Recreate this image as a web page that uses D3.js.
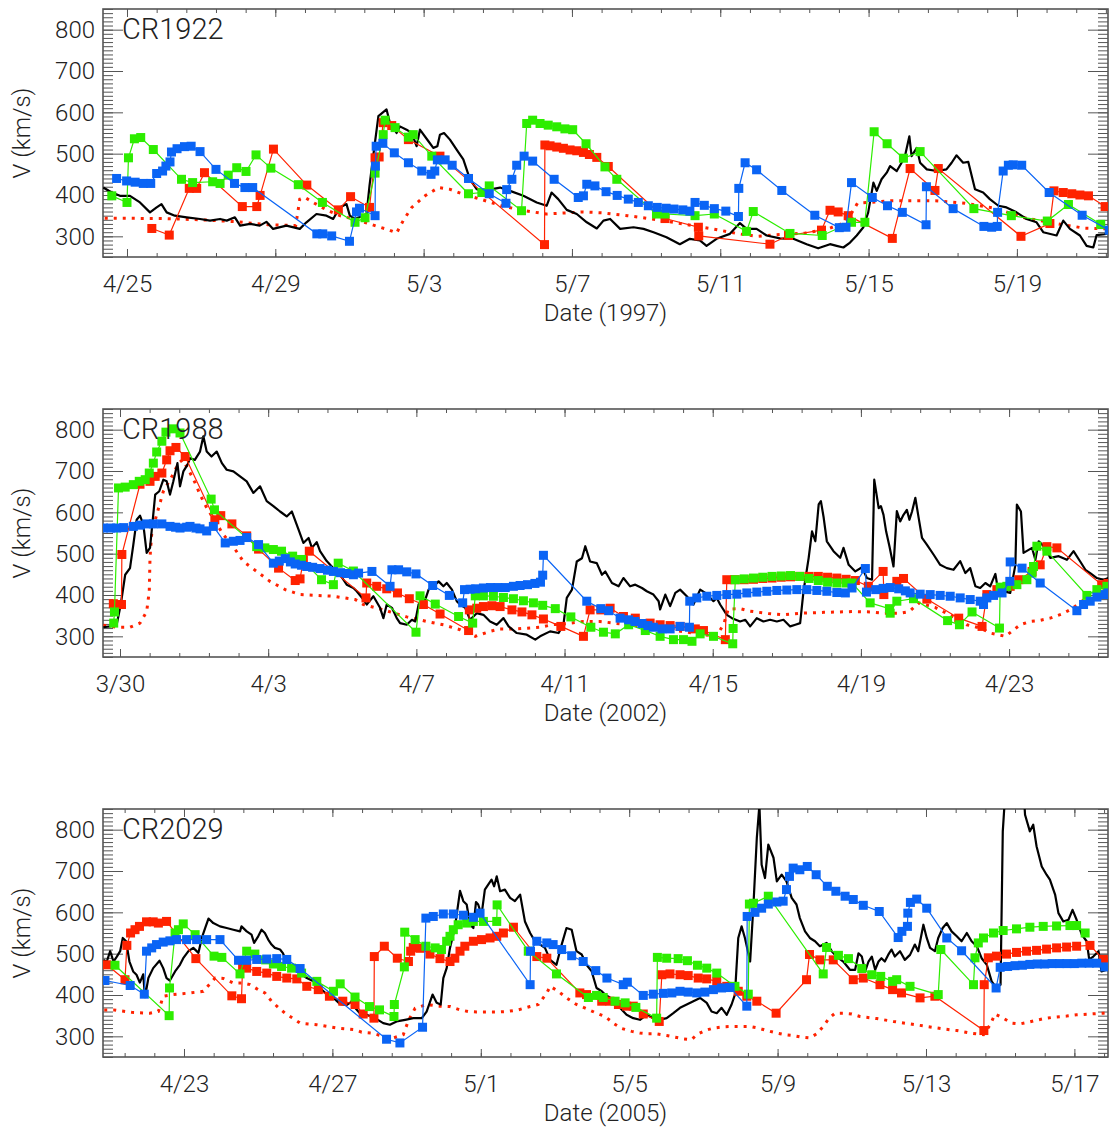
<!DOCTYPE html>
<html>
<head>
<meta charset="utf-8">
<script src="https://cdn.jsdelivr.net/npm/d3@7"></script>
<style>
  body { margin: 0; background: #fff; }
  svg text { font-family: Roboto, "Liberation Sans", sans-serif; font-weight: 300; fill: #222; }
</style>
</head>
<body>
<div id="chart-area"></div>
<script>
// times are fractional day numbers counted from the 1st of the base month of each rotation
// CR1922 (base April 1997)
const window1922 = [24.353, 51.457]
const ticks1922 = ["4/25", "4/29", "5/3", "5/7", "5/11", "5/15", "5/19"]
const obs1922 = [[24.36,418],[24.59,406],[24.81,398],[25.08,398],[25.35,382],[25.62,358],[25.80,370],[25.93,378],[26.07,358],[26.29,350],[26.61,346],[26.97,342],[27.24,338],[27.51,342],[27.69,338],[27.91,346],[28.05,326],[28.32,330],[28.58,326],[28.76,335],[28.94,318],[29.30,326],[29.66,318],[29.84,334],[30.11,354],[30.38,350],[30.56,342],[30.74,370],[30.92,378],[31.01,350],[31.15,342],[31.46,354],[31.54,422],[31.64,494],[31.78,591],[32.0,607],[32.09,575],[32.27,550],[32.36,566],[32.54,558],[32.68,550],[32.81,518],[32.90,558],[33.13,530],[33.26,514],[33.37,518],[33.44,546],[33.55,550],[33.71,534],[33.89,510],[34.07,486],[34.25,438],[34.43,414],[34.61,410],[35.06,418],[35.33,410],[35.69,398],[36.05,382],[36.32,374],[36.45,406],[36.63,390],[36.86,364],[37.13,354],[37.40,334],[37.67,319],[37.85,338],[38.03,342],[38.30,318],[38.66,322],[38.93,318],[39.20,310],[39.55,298],[39.91,281],[40.18,294],[40.45,290],[40.63,277],[40.90,294],[41.26,306],[41.53,332],[41.71,318],[41.98,318],[42.25,302],[42.61,295],[42.97,294],[43.33,281],[43.64,271],[43.96,281],[44.14,277],[44.32,273],[44.50,285],[44.68,302],[44.86,322],[44.99,358],[45.13,430],[45.22,410],[45.35,438],[45.49,454],[45.58,470],[45.76,458],[45.89,478],[45.98,494],[46.10,542],[46.16,494],[46.30,514],[46.39,478],[46.57,462],[46.84,458],[47.10,462],[47.24,478],[47.37,496],[47.55,478],[47.69,480],[47.87,414],[48.09,406],[48.27,390],[48.50,374],[48.72,370],[48.99,358],[49.26,342],[49.53,334],[49.71,310],[50.07,302],[50.25,338],[50.43,318],[50.70,302],[50.88,277],[51.06,273],[51.15,303],[51.37,305],[51.49,310]]
const model1922 = [[24.4,344],[26.0,343],[27.0,340],[28.0,335],[28.8,328],[29.55,326],[29.62,366],[29.66,390],[29.8,394],[30.02,382],[30.38,364],[30.74,350],[31.1,342],[31.55,330],[31.82,322],[32.05,316],[32.27,308],[32.45,338],[32.68,370],[33.04,398],[33.4,418],[33.7,414],[34.07,402],[34.6,388],[35.1,374],[35.6,364],[36.3,354],[37.3,359],[37.8,357],[38.5,350],[39.3,340],[40.0,330],[40.8,318],[41.5,306],[42.0,300],[42.5,304],[43.3,308],[43.9,318],[44.4,335],[44.7,380],[45.6,386],[46.8,386],[47.6,380],[48.4,368],[49.2,345],[50.0,332],[50.8,320],[51.45,318]]
const red1922 = [[25.67,319],[26.14,303],[26.68,416],[26.88,416],[27.09,454],[28.11,372],[28.50,372],[28.59,399],[28.95,511],[29.85,424],[30.70,364],[31.03,396],[31.54,370],[31.69,490],[31.80,492],[31.91,575],[32.14,568],[32.59,534],[33.44,494],[36.26,280],[36.27,521],[36.41,519],[36.59,516],[36.77,513],[36.95,509],[37.13,507],[37.31,503],[37.47,498],[37.67,491],[37.98,469],[39.51,343],[40.41,322],[40.42,301],[42.34,281],[42.84,302],[43.73,315],[43.96,363],[44.18,359],[44.45,350],[45.64,295],[46.12,464],[46.79,411],[46.88,464],[49.11,300],[49.89,331],[50.0,410],[50.25,406],[50.48,403],[50.70,400],[50.93,398],[51.38,372]]
const green1922 = [[24.59,398],[25.0,382],[25.04,490],[25.2,536],[25.37,539],[25.71,510],[26.47,438],[26.77,430],[27.31,432],[27.51,428],[27.73,448],[27.96,466],[28.21,457],[28.48,497],[28.88,465],[29.62,425],[30.27,382],[31.15,334],[31.42,345],[31.69,453],[31.91,546],[31.96,581],[32.23,563],[32.59,540],[32.72,546],[33.22,494],[34.21,403],[34.57,406],[34.77,422],[35.64,362],[35.78,573],[35.94,581],[36.14,573],[36.36,569],[36.59,565],[36.81,560],[37.02,558],[37.38,524],[37.89,468],[38.21,438],[39.28,354],[39.51,354],[40.32,350],[40.84,354],[41.71,312],[41.89,360],[42.88,307],[43.75,302],[44.54,334],[44.90,334],[45.15,553],[45.50,524],[45.94,489],[46.39,505],[47.84,367],[48.85,350],[49.82,337],[50.39,377],[51.26,329]]
const blue1922 = [[24.72,440],[24.99,434],[25.22,431],[25.44,428],[25.64,428],[25.80,452],[25.96,458],[26.05,470],[26.16,480],[26.2,504],[26.35,512],[26.55,517],[26.73,518],[26.97,505],[27.40,462],[27.90,428],[28.18,418],[28.39,418],[30.12,306],[30.28,306],[30.52,301],[31.0,288],[31.19,359],[31.27,368],[31.69,350],[31.70,470],[31.72,518],[31.90,525],[32.21,502],[32.59,478],[32.95,458],[33.2,450],[33.30,458],[33.37,485],[33.58,485],[33.77,472],[34.21,440],[34.77,403],[35.22,380],[35.24,413],[35.38,438],[35.51,472],[35.71,494],[35.94,482],[36.52,438],[37.17,394],[37.31,398],[37.40,426],[37.62,422],[37.92,408],[38.22,399],[38.52,390],[38.79,382],[39.06,374],[39.30,370],[39.54,368],[39.75,366],[39.99,364],[40.18,361],[40.32,382],[40.57,375],[40.84,367],[41.15,361],[41.49,348],[41.50,416],[41.67,478],[41.98,461],[42.66,411],[43.55,351],[44.21,321],[44.39,322],[44.54,430],[45.1,394],[45.51,374],[45.91,358],[46.55,328],[46.56,420],[47.28,367],[48.11,324],[48.32,322],[48.47,324],[48.48,358],[48.63,458],[48.77,472],[48.9,473],[49.13,472],[49.87,406],[50.76,351],[51.49,315]]

// CR1988 (base March 2002)
const window1988 = [29.541, 56.67]
const ticks1988 = ["3/30", "4/3", "4/7", "4/11", "4/15", "4/19", "4/23"]
const obs1988 = [[29.55,322],[29.73,324],[29.91,328],[30.02,377],[30.14,449],[30.27,465],[30.36,522],[30.45,582],[30.54,592],[30.63,570],[30.72,502],[30.81,514],[30.88,578],[30.95,643],[31.06,651],[31.17,679],[31.26,675],[31.35,643],[31.44,675],[31.55,719],[31.62,663],[31.71,699],[31.82,715],[31.89,731],[32.02,727],[32.16,747],[32.25,784],[32.34,747],[32.47,735],[32.61,747],[32.75,719],[32.88,703],[33.06,699],[33.24,687],[33.42,675],[33.60,647],[33.78,663],[33.96,627],[34.14,615],[34.32,602],[34.50,590],[34.64,602],[34.82,558],[34.95,526],[35.09,538],[35.18,514],[35.31,528],[35.40,506],[35.58,482],[35.76,465],[35.94,449],[36.12,425],[36.30,417],[36.39,409],[36.57,389],[36.66,377],[36.84,397],[37.02,369],[37.11,344],[37.20,377],[37.34,369],[37.47,344],[37.56,332],[37.74,328],[37.88,340],[37.97,336],[38.06,377],[38.24,389],[38.33,413],[38.51,425],[38.60,433],[38.73,421],[38.82,429],[38.96,413],[39.09,385],[39.18,377],[39.32,369],[39.45,340],[39.63,356],[39.81,352],[39.99,336],[40.17,328],[40.35,344],[40.49,324],[40.71,308],[40.98,304],[41.21,292],[41.34,300],[41.61,312],[41.84,308],[41.97,328],[42.06,393],[42.20,413],[42.33,481],[42.47,489],[42.56,518],[42.69,481],[42.87,477],[43.01,449],[43.10,457],[43.28,429],[43.46,421],[43.59,441],[43.77,421],[43.91,425],[44.09,417],[44.22,409],[44.40,401],[44.54,385],[44.58,365],[44.72,401],[44.85,373],[44.99,405],[45.12,413],[45.30,397],[45.48,377],[45.66,413],[45.80,405],[46.02,385],[46.11,393],[46.20,377],[46.38,352],[46.52,344],[46.74,336],[46.88,340],[47.01,324],[47.19,344],[47.37,336],[47.55,340],[47.73,336],[47.91,340],[48.09,324],[48.23,328],[48.36,332],[48.45,409],[48.59,490],[48.68,554],[48.77,530],[48.86,619],[48.92,627],[48.99,590],[49.08,530],[49.26,506],[49.44,490],[49.53,514],[49.67,473],[49.85,457],[50.03,467],[50.16,441],[50.30,437],[50.36,679],[50.48,610],[50.54,615],[50.61,594],[50.68,554],[50.77,518],[50.88,469],[50.97,603],[51.06,578],[51.15,594],[51.24,606],[51.31,582],[51.38,602],[51.47,635],[51.56,586],[51.65,538],[51.78,522],[51.96,498],[52.14,473],[52.32,465],[52.50,461],[52.68,482],[52.82,453],[52.95,465],[53.09,421],[53.22,417],[53.36,429],[53.49,421],[53.63,451],[53.67,429],[53.81,410],[54.03,405],[54.17,473],[54.21,619],[54.32,602],[54.39,502],[54.62,514],[54.71,485],[54.80,530],[54.98,514],[55.11,490],[55.34,494],[55.56,485],[55.74,506],[55.92,481],[56.06,461],[56.19,453],[56.37,441],[56.55,437],[56.68,441]]
const model1988 = [[29.55,327],[29.91,322],[30.27,322],[30.54,332],[30.72,360],[30.79,409],[30.81,490],[30.86,554],[30.99,594],[31.17,651],[31.40,687],[31.58,719],[31.69,727],[31.85,703],[32.03,671],[32.16,643],[32.34,611],[32.57,578],[32.79,546],[33.02,522],[33.33,481],[33.69,457],[34.05,433],[34.46,413],[34.86,401],[35.31,399],[35.76,397],[36.35,389],[36.57,377],[37.11,364],[37.74,347],[38.28,336],[38.73,328],[39.18,316],[39.59,300],[39.99,312],[40.26,318],[40.71,318],[41.34,322],[41.66,328],[41.97,330],[42.51,336],[42.96,336],[43.5,330],[44.0,326],[44.5,320],[45.0,314],[45.6,306],[46.1,300],[46.3,330],[46.42,366],[46.74,367],[47.0,361],[47.5,355],[47.9,352],[48.4,356],[49.0,358],[49.8,360],[50.25,359],[50.61,356],[51.06,356],[51.31,360],[51.56,381],[52.0,370],[52.4,352],[52.86,328],[53.22,320],[53.49,308],[53.9,300],[54.3,328],[54.57,336],[54.8,338],[55.11,344],[55.43,354],[55.7,367],[55.97,385],[56.19,401],[56.67,420]]
const red1988 = [[29.82,379],[30.04,377],[30.05,498],[30.54,668],[30.81,675],[30.95,687],[31.13,695],[31.26,727],[31.35,749],[31.51,757],[31.76,735],[32.56,582],[32.72,592],[33.02,572],[33.42,543],[33.74,511],[34.28,465],[34.73,435],[34.86,439],[34.95,485],[35.11,506],[36.64,393],[36.66,429],[36.93,421],[37.20,415],[37.49,405],[37.81,391],[38.19,377],[38.64,354],[39.41,314],[39.43,364],[39.63,368],[39.81,372],[40.04,374],[40.26,372],[40.58,364],[40.85,359],[41.12,352],[41.43,342],[41.90,324],[42.51,300],[42.69,364],[42.98,364],[43.23,368],[43.59,348],[43.91,344],[44.31,332],[44.58,328],[44.85,326],[45.12,324],[45.53,318],[45.75,314],[46.34,292],[46.38,437],[46.6,437],[46.85,437],[47.1,438],[47.35,440],[47.6,441],[47.85,443],[48.1,444],[48.35,445],[48.6,445],[48.85,445],[49.1,443],[49.35,441],[49.6,438],[49.85,435],[50.2,421],[50.6,457],[50.62,401],[50.97,433],[51.15,440],[51.78,390],[52.64,344],[53.27,324],[53.4,401],[53.67,413],[54.03,421],[54.26,437],[54.62,457],[54.84,473],[55.02,517],[55.29,514],[56.5,425],[56.67,428]]
const green1988 = [[29.83,332],[29.85,359],[29.96,659],[30.14,661],[30.36,667],[30.52,675],[30.68,679],[30.79,695],[30.90,719],[30.99,746],[31.13,772],[31.24,794],[31.42,802],[31.62,792],[32.46,632],[32.55,606],[33.69,517],[33.91,514],[34.14,510],[34.36,506],[34.66,494],[34.90,486],[35.44,437],[35.76,425],[35.89,477],[36.30,458],[37.99,310],[38.10,398],[38.51,378],[39.14,348],[39.52,332],[39.59,398],[39.81,398],[40.08,397],[40.35,394],[40.62,391],[40.89,386],[41.16,381],[41.41,375],[41.75,367],[42.17,347],[42.71,322],[43.05,310],[43.37,306],[43.73,328],[44.18,314],[44.58,300],[44.94,292],[45.21,292],[45.44,288],[45.66,306],[46.02,300],[46.54,282],[46.55,319],[46.61,437],[46.85,439],[47.1,441],[47.35,443],[47.6,445],[47.85,446],[48.1,447],[48.35,445],[48.6,440],[48.85,435],[49.1,431],[49.35,429],[49.6,429],[49.76,429],[50.25,381],[50.77,367],[50.79,356],[50.97,385],[51.42,391],[52.34,338],[52.66,328],[53.0,359],[53.74,320],[53.76,419],[53.94,421],[54.21,425],[54.48,437],[54.62,453],[54.66,469],[54.75,518],[55.02,506],[56.10,399],[56.37,413],[56.64,421]]
const blue1988 = [[29.55,562],[29.75,562],[29.91,562],[30.1,563],[30.36,566],[30.55,569],[30.72,572],[30.9,572],[31.13,572],[31.35,566],[31.5,564],[31.62,562],[31.8,564],[31.89,566],[32.05,562],[32.16,560],[32.34,555],[32.52,566],[32.84,526],[33.06,530],[33.24,532],[33.42,539],[33.74,522],[34.14,477],[34.30,482],[34.46,488],[34.6,480],[34.73,475],[34.9,472],[35.04,469],[35.2,467],[35.40,464],[35.6,460],[35.76,457],[35.95,454],[36.12,452],[36.30,449],[36.44,453],[36.80,457],[37.29,421],[37.34,461],[37.52,461],[37.74,456],[37.99,451],[38.44,423],[38.89,399],[39.25,381],[39.30,413],[39.45,414],[39.6,415],[39.81,417],[40.0,418],[40.2,418],[40.4,418],[40.62,421],[40.8,423],[41.0,425],[41.2,428],[41.35,431],[41.41,448],[41.43,496],[42.60,385],[42.98,367],[43.19,362],[43.50,344],[43.73,340],[43.9,336],[44.09,331],[44.25,326],[44.40,322],[44.63,318],[44.85,318],[45.12,324],[45.37,322],[45.38,385],[45.57,393],[45.84,397],[46.11,399],[46.38,401],[46.65,402],[46.92,405],[47.19,407],[47.46,409],[47.73,411],[48.0,412],[48.27,413],[48.54,413],[48.81,411],[49.08,409],[49.35,406],[49.58,405],[49.76,417],[50.12,464],[50.15,407],[50.4,413],[50.6,416],[50.79,418],[51.02,415],[51.2,410],[51.33,405],[51.6,402],[51.87,401],[52.14,399],[52.41,397],[52.68,393],[52.95,389],[53.22,385],[53.31,377],[53.40,393],[53.58,399],[53.81,405],[54.02,433],[54.03,480],[54.35,465],[54.84,429],[55.83,362],[56.01,377],[56.19,385],[56.37,395],[56.59,401],[56.67,405]]

// CR2029 (base April 2005)
const window2029 = [20.817, 47.906]
const ticks2029 = ["4/23", "4/27", "5/1", "5/5", "5/9", "5/13", "5/17"]
const obs2029 = [[20.83,485],[20.92,481],[21.01,506],[21.10,481],[21.19,493],[21.28,506],[21.35,538],[21.44,530],[21.53,481],[21.63,457],[21.72,449],[21.81,430],[21.90,450],[21.95,395],[22.04,441],[22.17,465],[22.34,483],[22.44,465],[22.53,441],[22.62,435],[22.76,457],[22.89,473],[22.98,489],[23.12,506],[23.25,514],[23.39,502],[23.48,538],[23.57,562],[23.66,585],[23.79,574],[23.97,566],[24.15,562],[24.33,558],[24.51,554],[24.55,566],[24.69,554],[24.82,546],[24.89,526],[25.0,542],[25.09,558],[25.18,550],[25.27,534],[25.36,522],[25.45,514],[25.59,510],[25.66,502],[25.77,481],[25.95,465],[26.13,453],[26.31,441],[26.49,433],[26.67,417],[26.85,401],[27.03,393],[27.21,378],[27.39,376],[27.52,384],[27.61,369],[27.74,356],[27.92,352],[28.15,344],[28.37,332],[28.55,328],[28.73,336],[28.96,340],[29.18,344],[29.41,344],[29.54,360],[29.70,401],[29.81,381],[29.92,377],[29.99,441],[30.08,465],[30.17,514],[30.30,562],[30.44,652],[30.53,627],[30.62,619],[30.71,570],[30.80,562],[30.87,625],[30.93,619],[31.02,594],[31.11,655],[31.20,667],[31.29,679],[31.36,663],[31.43,687],[31.52,651],[31.65,655],[31.79,635],[31.92,627],[32.06,643],[32.19,578],[32.33,550],[32.46,530],[32.60,522],[32.73,514],[32.87,485],[33.04,473],[33.18,522],[33.31,562],[33.45,558],[33.58,506],[33.72,498],[33.85,473],[33.99,457],[34.12,417],[34.26,409],[34.35,401],[34.57,389],[34.75,369],[34.93,352],[35.11,344],[35.29,340],[35.47,352],[35.65,344],[35.83,340],[36.01,344],[36.19,356],[36.37,369],[36.55,377],[36.73,385],[36.91,393],[37.09,381],[37.22,360],[37.36,356],[37.49,369],[37.63,352],[37.76,377],[37.85,401],[37.94,538],[38.03,566],[38.12,538],[38.26,481],[38.35,619],[38.44,780],[38.51,860],[38.57,715],[38.66,683],[38.75,764],[38.89,732],[38.98,675],[39.11,691],[39.24,675],[39.38,635],[39.51,619],[39.60,586],[39.74,554],[39.87,538],[40.01,530],[40.14,518],[40.32,526],[40.46,506],[40.59,493],[40.77,481],[40.95,461],[41.09,461],[41.18,501],[41.27,493],[41.36,457],[41.45,481],[41.54,493],[41.63,461],[41.72,481],[41.80,489],[41.89,481],[41.98,497],[42.07,510],[42.16,493],[42.30,506],[42.43,485],[42.57,497],[42.70,522],[42.79,506],[42.93,570],[43.02,538],[43.11,514],[43.24,506],[43.33,538],[43.45,562],[43.56,574],[43.69,554],[43.83,542],[43.96,530],[44.10,550],[44.23,530],[44.37,518],[44.50,489],[44.64,473],[44.77,433],[44.90,417],[45.01,425],[45.07,796],[45.13,880],[45.44,920],[45.64,880],[45.67,836],[45.80,796],[45.89,812],[45.98,760],[46.12,711],[46.25,691],[46.34,679],[46.48,643],[46.57,598],[46.70,578],[46.84,582],[46.95,606],[47.06,582],[47.20,546],[47.33,530],[47.40,486],[47.51,493],[47.65,506],[47.73,457],[47.87,461]]
const model2029 = [[20.85,364],[21.10,364],[21.59,358],[22.08,356],[22.31,360],[22.44,397],[22.71,401],[23.16,405],[23.52,409],[23.84,441],[24.06,440],[24.33,429],[24.60,429],[24.78,425],[25.0,413],[25.18,405],[25.36,385],[25.54,370],[25.72,356],[25.93,344],[26.13,332],[26.35,330],[26.58,328],[26.85,324],[27.12,320],[27.39,318],[27.61,316],[27.79,310],[28.06,308],[28.37,300],[28.64,296],[28.91,304],[29.05,338],[29.23,368],[29.54,377],[29.86,373],[30.17,372],[30.44,364],[30.66,360],[30.89,359],[31.16,359],[31.43,359],[31.70,360],[32.01,364],[32.33,372],[32.55,377],[32.78,405],[32.87,421],[33.09,409],[33.31,393],[33.58,377],[33.85,367],[34.12,356],[34.35,348],[34.60,330],[34.80,319],[35.07,312],[35.29,308],[35.52,306],[35.74,306],[36.01,302],[36.24,298],[36.46,294],[36.68,292],[36.82,304],[37.04,314],[37.27,320],[37.54,323],[37.76,324],[37.99,324],[38.26,324],[38.48,320],[38.71,314],[38.98,308],[39.20,304],[39.42,302],[39.65,298],[39.87,296],[40.05,306],[40.23,324],[40.39,344],[40.55,356],[40.77,356],[41.0,354],[41.22,348],[41.67,343],[42.12,336],[42.57,330],[43.02,324],[43.47,318],[43.83,314],[44.19,308],[44.55,304],[44.73,328],[44.86,354],[45.08,344],[45.31,332],[45.53,330],[45.80,335],[46.03,340],[46.25,344],[46.52,347],[46.79,349],[47.06,352],[47.42,354],[47.78,356],[47.9,357]]
const red2029 = [[20.92,473],[21.41,437],[21.46,520],[21.56,550],[21.68,558],[21.80,566],[21.99,577],[22.17,577],[22.31,574],[22.53,578],[23.32,488],[24.29,398],[24.55,391],[24.58,470],[24.69,465],[24.96,457],[25.23,453],[25.50,445],[25.77,441],[26.04,439],[26.31,421],[26.62,413],[26.92,397],[27.28,385],[27.61,377],[27.83,354],[28.12,344],[28.13,493],[28.40,518],[28.75,489],[29.05,481],[29.11,506],[29.18,515],[29.36,513],[29.63,499],[29.90,488],[30.17,481],[30.30,489],[30.44,506],[30.57,518],[30.80,530],[31.02,534],[31.25,538],[31.43,542],[31.61,550],[31.88,564],[32.51,493],[32.78,489],[33.67,405],[33.85,401],[34.26,385],[34.48,385],[34.71,377],[34.93,373],[35.11,373],[35.38,354],[35.81,336],[35.88,449],[36.10,451],[36.37,449],[36.59,447],[36.86,441],[37.09,439],[37.36,433],[37.63,421],[37.94,409],[38.17,397],[38.44,385],[38.96,356],[39.78,437],[39.86,498],[40.14,485],[40.50,485],[41.04,437],[41.31,441],[41.76,425],[42.10,413],[42.34,405],[42.84,393],[43.24,397],[44.56,314],[44.57,425],[44.68,490],[44.90,494],[45.17,499],[45.44,503],[45.71,506],[45.98,508],[46.25,511],[46.52,514],[46.79,516],[47.06,518],[47.42,520],[47.78,486],[47.9,481]]
const green2029 = [[21.14,472],[22.6,350],[22.61,417],[22.76,550],[22.85,558],[22.98,572],[23.30,546],[23.81,494],[24.02,491],[24.51,451],[24.69,506],[24.91,499],[25.20,485],[25.41,475],[25.63,469],[25.90,465],[26.17,453],[26.58,433],[27.03,409],[27.21,427],[27.61,395],[28.0,372],[28.27,364],[28.66,348],[28.67,377],[28.94,468],[28.95,552],[29.23,534],[29.52,518],[29.77,514],[29.94,510],[30.08,530],[30.17,542],[30.26,558],[30.39,570],[30.62,574],[30.80,578],[31.07,578],[31.43,578],[31.44,618],[32.28,506],[33.04,451],[33.90,394],[34.12,399],[34.30,394],[34.62,385],[34.89,381],[35.18,370],[35.74,344],[35.76,491],[36.01,489],[36.32,488],[36.57,483],[36.84,472],[37.09,465],[37.36,453],[37.85,421],[38.21,402],[38.24,620],[38.35,622],[38.75,639],[40.23,451],[40.32,515],[40.64,496],[40.91,488],[41.27,464],[41.54,449],[41.78,445],[42.10,433],[42.21,437],[42.57,421],[43.33,401],[43.40,510],[44.28,425],[44.32,490],[44.41,526],[44.55,538],[44.82,550],[45.08,556],[45.44,560],[45.80,564],[46.16,566],[46.52,567],[46.88,568],[47.06,568],[47.29,550]]
const blue2029 = [[20.87,435],[21.55,423],[21.93,402],[21.99,506],[22.13,514],[22.26,522],[22.44,528],[22.62,531],[22.80,534],[23.07,534],[23.34,534],[23.61,534],[23.97,534],[24.47,484],[24.69,484],[24.96,486],[25.23,487],[25.50,488],[25.77,486],[26.13,464],[28.46,293],[28.82,284],[29.43,322],[29.52,586],[29.72,590],[29.99,596],[30.26,596],[30.53,593],[30.80,588],[30.98,598],[32.33,425],[32.34,506],[32.51,530],[32.78,526],[32.95,522],[33.18,510],[33.45,495],[33.76,481],[34.10,459],[34.40,441],[34.84,425],[34.95,431],[35.38,399],[35.65,402],[35.92,404],[36.15,405],[36.37,409],[36.59,407],[36.82,405],[37.04,407],[37.27,413],[37.49,417],[37.72,418],[38.17,373],[38.18,590],[38.39,600],[38.57,610],[38.75,620],[38.98,625],[39.15,627],[39.24,655],[39.32,687],[39.42,707],[39.60,703],[39.80,711],[40.04,691],[40.34,663],[40.57,651],[40.82,639],[41.04,631],[41.31,617],[41.74,602],[42.25,539],[42.35,554],[42.5,566],[42.51,598],[42.58,624],[42.75,632],[43.02,610],[43.56,538],[43.96,507],[44.89,417],[45.0,467],[45.2,469],[45.4,471],[45.6,472],[45.8,474],[46.0,475],[46.2,475],[46.4,476],[46.6,476],[46.8,476],[47.0,476],[47.2,477],[47.4,477],[47.6,477],[47.82,468]]

const yMajor = [300, 400, 500, 600, 700, 800]

function drawChart() {
    const svgWidth = 1110
    const svgHeight = 1128
    const margin = { left: 103, right: 2 }
    const plotWidth = svgWidth - margin.left - margin.right
    const plotHeight = 248
    const frameColor = "#555"
    const colors = { red: "#ff2200", green: "#2ded00", blue: "#0a64f5" }

    const panels = [
        { title: "CR1922", year: 1997, month: 3, top: 9, win: window1922, ticks: ticks1922,
          obs: obs1922, model: model1922, red: red1922, green: green1922, blue: blue1922 },
        { title: "CR1988", year: 2002, month: 2, top: 409, win: window1988, ticks: ticks1988,
          obs: obs1988, model: model1988, red: red1988, green: green1988, blue: blue1988 },
        { title: "CR2029", year: 2005, month: 3, top: 809, win: window2029, ticks: ticks2029,
          obs: obs2029, model: model2029, red: red2029, green: green2029, blue: blue2029 }
    ]

    const svg = d3.select("#chart-area")
      .append("svg")
      .attr("width", svgWidth)
      .attr("height", svgHeight)

    panels.forEach((p, i) => {
        const base = Date.UTC(p.year, p.month, 1)
        const toDate = d => new Date(base + (d - 1) * 864e5)
        const parseTick = s => {
            const [m, d] = s.split("/").map(Number)
            return new Date(Date.UTC(p.year, m - 1, d))
        }

        const xScale = d3.scaleUtc()
            .domain(p.win.map(toDate))
            .range([0, plotWidth])
        const yScale = d3.scaleLinear()
            .domain([250, 850])
            .range([plotHeight, 0])

        const g = svg.append("g")
            .attr("transform", `translate(${margin.left},${p.top})`)

        g.append("clipPath").attr("id", "clip" + i)
          .append("rect").attr("width", plotWidth).attr("height", plotHeight)

        // axes
        const majorDates = p.ticks.map(parseTick)
        const step = 0.8 * 864e5
        const [d0, d1] = xScale.domain()
        const minorDates = d3.range(-40, 40)
            .map(k => new Date(majorDates[0].getTime() + k * step))
            .filter(t => t >= d0 && t <= d1)
        const yMinor = d3.range(250, 851, 10)

        const axisStyle = sel => {
            sel.select(".domain").remove()
            sel.selectAll(".tick line").attr("stroke", frameColor)
        }

        g.append("g").attr("transform", `translate(0,${plotHeight})`)
          .call(d3.axisBottom(xScale).tickValues(minorDates).tickSize(-4).tickFormat(""))
          .call(axisStyle)
        g.append("g")
          .call(d3.axisTop(xScale).tickValues(minorDates).tickSize(-4).tickFormat(""))
          .call(axisStyle)
        g.append("g")
          .call(d3.axisTop(xScale).tickValues(majorDates).tickSize(-8).tickFormat(""))
          .call(axisStyle)
        g.append("g").attr("transform", `translate(0,${plotHeight})`)
          .call(d3.axisBottom(xScale).tickValues(majorDates).tickSize(-8).tickPadding(18)
              .tickFormat(d3.utcFormat("%-m/%-d")))
          .call(axisStyle)
          .call(a => a.selectAll("text").attr("font-size", 24).attr("fill", "#222"))

        g.append("g")
          .call(d3.axisLeft(yScale).tickValues(yMinor).tickSize(-10).tickFormat(""))
          .call(axisStyle)
        g.append("g").attr("transform", `translate(${plotWidth},0)`)
          .call(d3.axisRight(yScale).tickValues(yMinor).tickSize(-10).tickFormat(""))
          .call(axisStyle)
        g.append("g").attr("transform", `translate(${plotWidth},0)`)
          .call(d3.axisRight(yScale).tickValues(yMajor).tickSize(-20).tickFormat(""))
          .call(axisStyle)
        g.append("g")
          .call(d3.axisLeft(yScale).tickValues(yMajor).tickSize(-20).tickPadding(8))
          .call(axisStyle)
          .call(a => a.selectAll("text").attr("font-size", 24).attr("fill", "#222"))

        g.append("rect")
          .attr("width", plotWidth)
          .attr("height", plotHeight)
          .attr("fill", "none")
          .attr("stroke", frameColor)
          .attr("stroke-width", 1.6)

        // axis titles
        g.append("text")
          .attr("transform", `translate(${22 - margin.left},${plotHeight / 2}) rotate(-90)`)
          .attr("text-anchor", "middle")
          .attr("dy", "0.35em")
          .attr("font-size", 24)
          .text("V (km/s)")
        g.append("text")
          .attr("x", plotWidth / 2)
          .attr("y", plotHeight + 64)
          .attr("text-anchor", "middle")
          .attr("font-size", 24)
          .text(`Date (${p.year})`)

        // data
        const plot = g.append("g").attr("clip-path", `url(#clip${i})`)
        const line = d3.line()
            .x(d => xScale(toDate(d[0])))
            .y(d => yScale(d[1]))

        plot.append("path")
          .attr("d", line(p.model))
          .attr("fill", "none")
          .attr("stroke", colors.red)
          .attr("stroke-width", 3)
          .attr("stroke-dasharray", "3,6")

        plot.append("path")
          .attr("d", line(p.obs))
          .attr("fill", "none")
          .attr("stroke", "#000")
          .attr("stroke-width", 2.2)
          .attr("stroke-linejoin", "round")

        const size = 9
        ;["red", "green", "blue"].forEach(key => {
            const series = p[key]
            plot.append("path")
              .attr("d", line(series))
              .attr("fill", "none")
              .attr("stroke", colors[key])
              .attr("stroke-width", 1.2)
            plot.append("g").selectAll("rect")
              .data(series)
              .join("rect")
              .attr("x", d => xScale(toDate(d[0])) - size / 2)
              .attr("y", d => yScale(d[1]) - size / 2)
              .attr("width", size)
              .attr("height", size)
              .attr("fill", colors[key])
        })

        g.append("text")
          .attr("x", 19)
          .attr("y", 30)
          .attr("font-size", 29)
          .text(p.title)
    })
}

drawChart()
</script>
</body>
</html>
